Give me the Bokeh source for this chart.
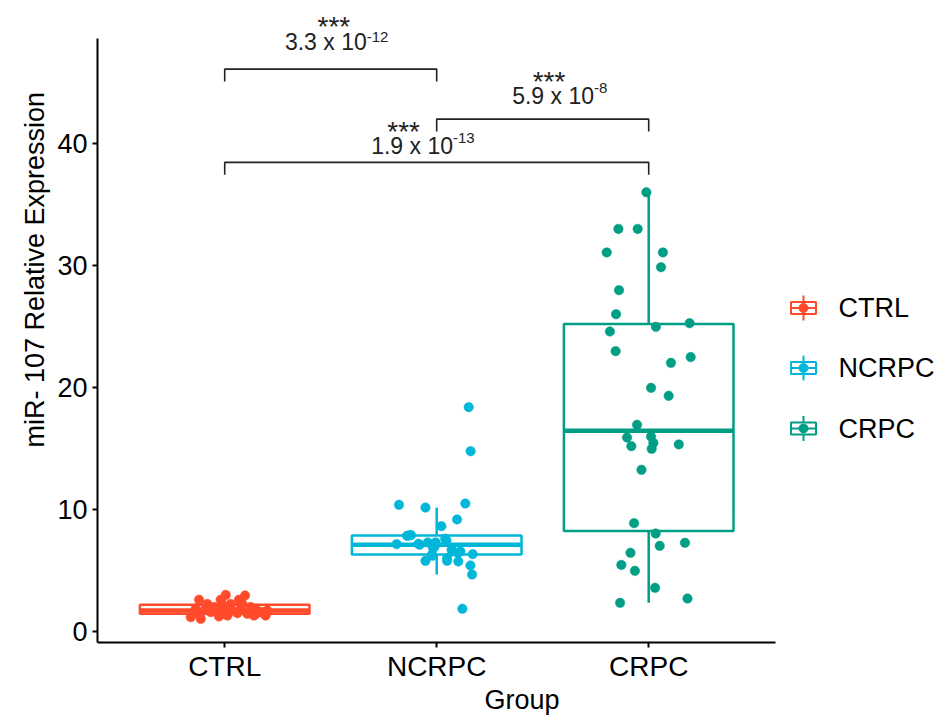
import numpy as np
from bokeh.plotting import figure
from bokeh.models import Range1d, FixedTicker, ColumnDataSource
from bokeh.embed import file_html
from bokeh.resources import INLINE
from bokeh.core.properties import value

# ---------------- data ----------------
categories = ["CTRL", "NCRPC", "CRPC"]
colors = ["#FF4A2B", "#00B6D9", "#009E84"]

ctrl_values = [2.6, 2.26, 3.0, 2.6, 2.95, 2.6, 2.26, 1.17, 1.04, 1.23, 1.31, 1.5, 1.45, 1.5, 1.31,
               1.72, 2.0, 1.72, 1.59, 1.72, 1.86, 1.72, 1.86, 1.86, 2.0, 2.26, 1.45, 1.72, 1.31, 1.59]
ctrl_jitter = [-0.121, -0.082, 0.005, -0.019, 0.096, 0.067, 0.028, -0.160, -0.113, -0.027, 0.013, 0.060,
               0.107, 0.154, 0.193, 0.201, 0.123, 0.154, -0.066, -0.098, -0.137, 0.036, 0.075, -0.011,
               -0.050, 0.083, -0.121, 0.013, 0.138, 0.178]

ncrpc_values = [18.39, 14.78, 10.38, 10.16, 10.49, 9.18, 8.63, 7.84, 7.90, 7.16, 7.19, 7.30, 7.30, 7.46,
                6.83, 6.31, 6.56, 6.56, 6.34, 5.79, 5.79, 5.74, 5.41, 4.67, 1.86,
                6.0, 6.2, 6.45, 6.7, 6.95, 7.11, 7.6, 7.87]
ncrpc_jitter = [0.151, 0.160, -0.178, -0.053, 0.135, 0.096, 0.022, -0.140, -0.121, -0.189, -0.086, -0.042,
                -0.005, 0.046, -0.017, -0.022, 0.074, 0.112, 0.170, -0.053, 0.049, 0.102, 0.159, 0.167, 0.121,
                0.049, -0.020, 0.100, 0.070, -0.010, -0.080, 0.040, -0.130]

crpc_values = [36.0, 33.0, 33.0, 31.07, 31.07, 29.86, 27.98, 26.01, 24.59, 24.97, 25.27, 22.98, 22.49,
               22.02, 19.97, 19.32, 16.94, 15.90, 15.98, 15.46, 15.19, 14.97, 15.33, 13.25, 8.88, 8.03,
               7.02, 7.27, 6.45, 5.46, 4.97, 3.58, 2.70, 2.35]
crpc_jitter = [-0.011, -0.143, -0.052, -0.198, 0.067, 0.058, -0.140, -0.154, -0.183, 0.034, 0.193, -0.156,
               0.198, 0.105, 0.011, 0.094, -0.055, -0.102, 0.011, 0.022, -0.082, 0.014, 0.142, -0.034,
               -0.069, 0.033, 0.052, 0.171, -0.086, -0.129, -0.065, 0.030, 0.183, -0.135]

y_ticks = [0, 10, 20, 30, 40]

comparisons = [("CTRL", "NCRPC"), ("NCRPC", "CRPC"), ("CTRL", "CRPC")]
p_mantissa = ["3.3 x 10", "5.9 x 10", "1.9 x 10"]
p_exponent = ["-12", "-8", "-13"]
p_stars = ["***", "***", "***"]

group_values = [ctrl_values, ncrpc_values, crpc_values]
group_jitter = [ctrl_jitter, ncrpc_jitter, crpc_jitter]

# ---------------- layout ----------------
FONT = "Liberation Sans"
W, H = 946, 718
BL = 97                          # frame left (px)
FB = 642                         # frame bottom (px)
PX_X, PX_Y = 212.0, 12.2         # pixels per data unit
X0, X1 = 0.4, 3.6                # discrete axis extent
Y0 = -(FB - 631) / PX_Y          # y=0 sits at px 631
Y1 = 48.6                        # y axis line top

x_hi = X0 + (W - BL) / PX_X
y_hi = Y0 + FB / PX_Y


def dx(px):  # screen px -> data x
    return X0 + (px - BL) / PX_X


def dy(py):  # screen px -> data y
    return Y0 + (FB - py) / PX_Y


p = figure(width=W, height=H, output_backend="svg", toolbar_location=None,
           x_range=Range1d(X0, x_hi), y_range=Range1d(Y0, y_hi),
           title="miR- 107 Relative Expression", title_location="left",
           min_border_left=BL, min_border_right=0, min_border_top=0, min_border_bottom=H - FB)
p.outline_line_color = None
p.xgrid.visible = False
p.ygrid.visible = False
p.background_fill_color = "white"
p.border_fill_color = "white"

# y title, placed like ggplot's (starts ~195 px above the x axis)
p.title.align = "left"
p.title.offset = FB - 447
p.title.text_font = FONT
p.title.text_font_style = "normal"
p.title.text_font_size = "27px"
p.title.text_color = "black"
p.title.standoff = 10

p.xaxis.bounds = (X0, X1)
p.yaxis.bounds = (Y0, Y1)
p.xaxis.ticker = FixedTicker(ticks=[i + 1 for i in range(len(categories))])
p.xaxis.major_label_overrides = {i + 1: c for i, c in enumerate(categories)}
p.yaxis.ticker = FixedTicker(ticks=y_ticks)
for ax in (p.xaxis, p.yaxis):
    ax.axis_line_color = "black"
    ax.axis_line_width = 2
    ax.major_tick_line_color = "black"
    ax.major_tick_line_width = 2
    ax.major_tick_in = 0
    ax.major_tick_out = 5
    ax.minor_tick_line_color = None
    ax.major_label_text_font = FONT
    ax.major_label_text_color = "black"
p.xaxis.major_label_text_font_size = "28px"
p.yaxis.major_label_text_font_size = "27px"
p.xaxis.major_label_standoff = 3
p.yaxis.major_label_standoff = 5

p.xaxis.axis_label = "Group"
p.xaxis.axis_label_text_font = FONT
p.xaxis.axis_label_text_font_style = "normal"
p.xaxis.axis_label_text_font_size = "27px"
p.xaxis.axis_label_text_color = "black"
p.xaxis.axis_label_standoff = 0

# ---------------- boxplots ----------------
for i, (vals, col) in enumerate(zip(group_values, colors)):
    xc = i + 1
    v = np.array(vals)
    q1, med, q3 = np.percentile(v, [25, 50, 75])
    iqr = q3 - q1
    hi = v[v <= q3 + 1.5 * iqr].max()
    lo = v[v >= q1 - 1.5 * iqr].min()
    p.segment(x0=[xc, xc], y0=[q3, q1], x1=[xc, xc], y1=[hi, lo], line_color=col, line_width=2.5)
    p.quad(left=[xc - 0.4], right=[xc + 0.4], bottom=[q1], top=[q3],
           fill_color="white", fill_alpha=0.0, line_color=col, line_width=2.5)
    p.segment(x0=[xc - 0.4], y0=[med], x1=[xc + 0.4], y1=[med], line_color=col, line_width=4.5)

for i, (vals, jit, col) in enumerate(zip(group_values, group_jitter, colors)):
    src = ColumnDataSource(dict(x=[i + 1 + j for j in jit], y=vals))
    p.scatter("x", "y", source=src, size=9.5, fill_color=col, line_color=col, line_width=0.5)

# ---------------- significance brackets ----------------
bracket_y = [46.1, 42.0, 38.45]
tick_len = 1.02
star_x = [1.515, 2.53, 1.844]
star_py = [25.7, 81.4, 131.4]
text_x = [1.670, 2.742, 2.077]
text_py = [41.7, 95.0, 145.0]
sup_py = [36.0, 87.5, 137.0]
pos = {c: i + 1 for i, c in enumerate(categories)}
xs, ys = [], []
for (a, b), by in zip(comparisons, bracket_y):
    xa, xb = pos[a], pos[b]
    xs.append([xa, xa, xb, xb])
    ys.append([by - tick_len, by, by, by - tick_len])
p.multi_line(xs, ys, line_color="#222222", line_width=1.6)
p.text(x=star_x, y=[dy(v) for v in star_py], text=p_stars, text_font=value(FONT), text_font_size="28px",
       text_align="center", text_baseline="middle", text_color="#222222")
p.text(x=text_x, y=[dy(v) for v in text_py], text=p_mantissa, text_font=value(FONT), text_font_size="23px",
       text_align="right", text_baseline="middle", text_color="#222222")
p.text(x=text_x, y=[dy(v) for v in sup_py], text=p_exponent, text_font=value(FONT), text_font_size="15px",
       text_align="left", text_baseline="middle", text_color="#222222")

# ---------------- legend (ggplot-style keys) ----------------
key_cx = 803
key_cy = [307.5, 367.5, 428.0]
for cy, col, lab in zip(key_cy, colors, categories):
    p.segment(x0=[dx(key_cx)], y0=[dy(cy - 12.5)], x1=[dx(key_cx)], y1=[dy(cy + 12.5)],
              line_color=col, line_width=2)
    p.quad(left=[dx(key_cx - 12.5)], right=[dx(key_cx + 12.5)], bottom=[dy(cy + 6)], top=[dy(cy - 6)],
           fill_color="white", line_color=col, line_width=2)
    p.segment(x0=[dx(key_cx - 12.5)], y0=[dy(cy)], x1=[dx(key_cx + 12.5)], y1=[dy(cy)],
              line_color=col, line_width=2)
    p.scatter([dx(key_cx)], [dy(cy)], size=9, fill_color=col, line_color=col)
    p.text(x=[dx(838)], y=[dy(cy)], text=[lab], text_font=value(FONT), text_font_size="27px",
           text_align="left", text_baseline="middle", text_color="black")

open("out.html", "w").write(file_html(p, INLINE))
